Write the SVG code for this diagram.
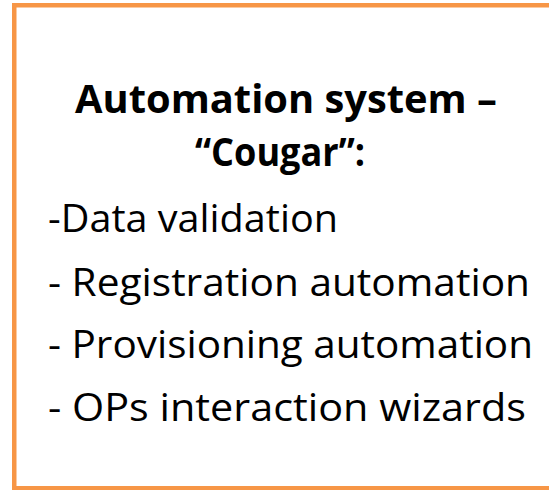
<svg xmlns="http://www.w3.org/2000/svg" width="549" height="490" viewBox="0 0 549 490">
<style>
.box{fill:#ffffff;stroke:#F79646;stroke-width:4.5}
.t{font-family:"Open Sans","Liberation Sans",sans-serif;fill:#000000}
.b{font-weight:bold;font-size:40px}
.n{font-size:39px}
</style>
<rect width="549" height="490" fill="#ffffff"/>
<g id="cougar">
<rect class="box" x="14.25" y="5.25" width="545" height="483"/>
<text class="t b" x="75" y="113" textLength="422" lengthAdjust="spacingAndGlyphs">Automation system –</text>
<text class="t b" x="195" y="166" textLength="170" lengthAdjust="spacingAndGlyphs">“Cougar”:</text>
<text class="t n" x="48" y="232" textLength="290" lengthAdjust="spacingAndGlyphs">-Data validation</text>
<text class="t n" x="48" y="296" textLength="482" lengthAdjust="spacingAndGlyphs">- Registration automation</text>
<text class="t n" x="48" y="358" textLength="485" lengthAdjust="spacingAndGlyphs">- Provisioning automation</text>
<text class="t n" x="48" y="421" textLength="478" lengthAdjust="spacingAndGlyphs">- OPs interaction wizards</text>
</g>
</svg>
